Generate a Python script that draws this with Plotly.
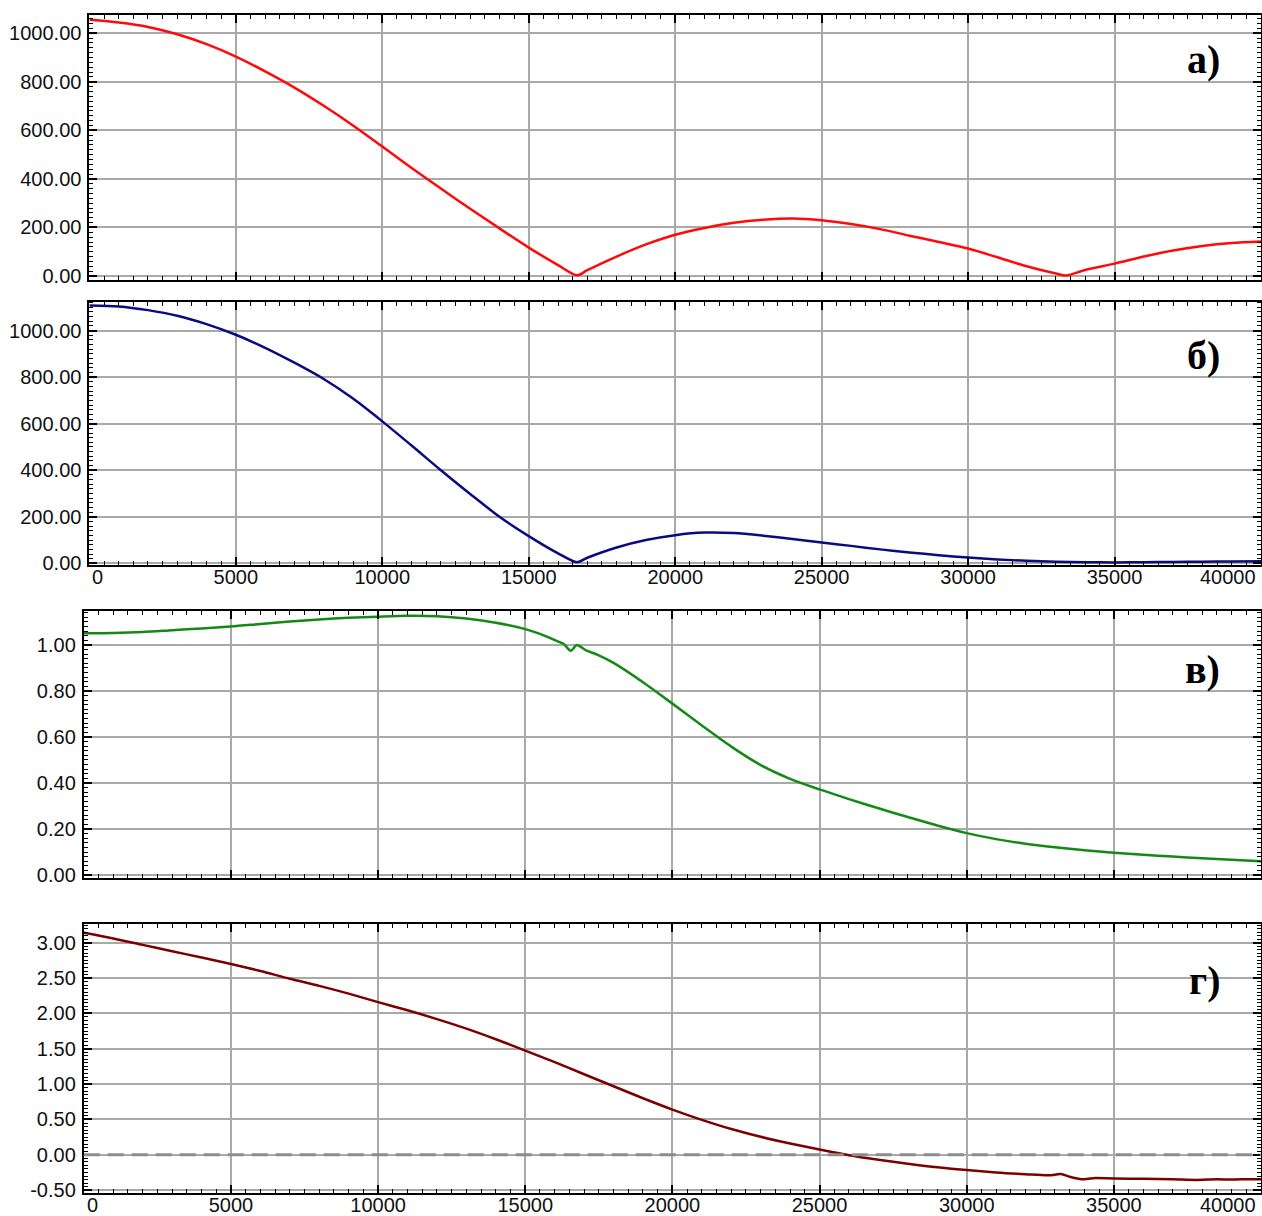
import plotly.graph_objects as go

# ---- panel а) : amplitude, red ----
a_x = [0, 1000, 2000, 3000, 4000, 5000, 6000, 7000, 8000, 9000, 10000, 11000, 12000,
       13000, 14000, 15000, 16000, 16650, 17000, 18000, 19000, 20000, 21000, 22000,
       23000, 24000, 25000, 26000, 27000, 28000, 29000, 30000, 31000, 32000, 33000,
       33350, 34000, 35000, 36000, 37000, 38000, 39000, 40000]
a_y = [1055, 1044, 1026, 996, 955, 904, 843, 776, 701, 620, 533, 445, 360,
       277, 196, 117, 45, 3, 24, 80, 130, 170, 198, 219,
       232, 237, 230, 214, 193, 166, 140, 113, 77, 40, 10,
       2, 25, 51, 80, 105, 124, 136, 142]

# ---- panel б) : amplitude, navy ----
b_x = [0, 1000, 2000, 3000, 4000, 5000, 6000, 7000, 8000, 9000, 10000, 11000, 12000,
       13000, 14000, 15000, 16000, 16650, 17000, 18000, 19000, 20000, 21000, 22000,
       23000, 24000, 25000, 26000, 27000, 28000, 29000, 30000, 31000, 32000, 33000,
       34000, 35000, 36000, 37000, 38000, 39000, 40000]
b_y = [1108, 1104, 1088, 1064, 1028, 982, 926, 862, 792, 708, 610, 506, 400,
       298, 200, 117, 43, 5, 24, 68, 100, 121, 132, 130,
       119, 105, 90, 75, 60, 47, 35, 25, 17, 11, 7,
       5, 4, 5, 6, 7, 8, 9]

# ---- panel в) : ratio, green ----
c_x = [0, 1000, 2000, 3000, 4000, 5000, 6000, 7000, 8000, 9000, 10000, 11000, 12000,
       13000, 14000, 15000, 15500, 16100, 16300, 16550, 16750, 17050, 17500, 18000,
       19000, 20000, 21000, 22000, 23000, 24000, 25000, 26000, 27000, 28000, 29000,
       30000, 31000, 32000, 33000, 34000, 35000, 36000, 37000, 38000, 39000, 40000]
c_y = [1.051, 1.052, 1.056, 1.064, 1.072, 1.080, 1.091, 1.102, 1.111, 1.118, 1.123, 1.127, 1.125,
       1.115, 1.097, 1.069, 1.048, 1.016, 1.005, 0.975, 1.000, 0.978, 0.955, 0.922,
       0.838, 0.745, 0.650, 0.558, 0.478, 0.418, 0.372, 0.330, 0.290, 0.252, 0.215,
       0.182, 0.156, 0.136, 0.121, 0.108, 0.097, 0.088, 0.080, 0.073, 0.066, 0.060]

# ---- panel г) : phase, dark red ----
d_x = [0, 1000, 2000, 3000, 4000, 5000, 6000, 7000, 8000, 9000, 10000, 11000, 12000,
       13000, 14000, 15000, 16000, 17000, 18000, 19000, 20000, 21000, 22000, 23000,
       24000, 25000, 26000, 27000, 28000, 29000, 30000, 31000, 32000, 32800, 33200,
       33500, 33900, 34300, 35000, 36000, 37000, 37800, 38500, 39000, 39600, 40000]
d_y = [3.14, 3.06, 2.97, 2.88, 2.79, 2.70, 2.60, 2.49, 2.39, 2.28, 2.16, 2.045, 1.92,
       1.785, 1.635, 1.475, 1.31, 1.14, 0.97, 0.80, 0.64, 0.495, 0.365, 0.255,
       0.16, 0.075, -0.005, -0.07, -0.125, -0.175, -0.215, -0.25, -0.275, -0.29, -0.272,
       -0.31, -0.345, -0.33, -0.335, -0.34, -0.345, -0.355, -0.345, -0.35, -0.345, -0.345]

X_TICKS = [5000, 10000, 15000, 20000, 25000, 30000, 35000]
X_TICK_TEXT = [str(v) for v in X_TICKS]
D_Y_TICKS = [-0.5, 0.0, 0.5, 1.0, 1.5, 2.0, 2.5, 3.0]
D_Y_TICK_TEXT = ["%.2f" % v for v in D_Y_TICKS]
PANEL_LABELS = ["а)", "б)", "в)", "г)"]

H = 1216
W = 1262
LABEL_FONT = dict(family="Liberation Sans, Arial, sans-serif", size=20, color="#111111")
GRID = "#a9a9a9"


def ydom(top_px, bottom_px):
    return [1 - bottom_px / H, 1 - top_px / H]


def frame(**kw):
    base = dict(
        tickfont=LABEL_FONT, automargin=False,
        ticks="inside", ticklen=8, tickwidth=1.5, tickcolor="black",
        showline=True, linecolor="black", linewidth=2, mirror="allticks",
        showgrid=True, gridcolor=GRID, gridwidth=1.5, zeroline=False,
    )
    base.update(kw)
    return base


def x_axis(domain, anchor, labels, standoff=0):
    return frame(
        domain=domain, anchor=anchor, range=[0, 40000],
        tickmode="array", tickvals=X_TICKS, ticktext=X_TICK_TEXT,
        showticklabels=labels, ticklabelstandoff=standoff,
        minor=dict(tickmode="linear", tick0=0, dtick=500, ticks="inside",
                   ticklen=4, tickwidth=1.2, tickcolor="black", showgrid=False),
    )


def y_axis(domain, anchor, rng, dtick, minor_dtick, tickvals=None, ticktext=None):
    ax = frame(
        domain=domain, anchor=anchor, range=rng,
        tickmode="linear", tick0=0, dtick=dtick, tickformat=".2f",
        ticklabelstandoff=2,
        minor=dict(tickmode="linear", tick0=0, dtick=minor_dtick, ticks="inside",
                   ticklen=4, tickwidth=1.2, tickcolor="black", showgrid=False),
    )
    if tickvals is not None:
        ax.update(tickmode="array", tickvals=tickvals, ticktext=ticktext)
    return ax


fig = go.Figure()
series = [
    (a_x, a_y, "x", "y", "#ff0a0a"),
    (b_x, b_y, "x2", "y2", "#0b0b80"),
    (c_x, c_y, "x3", "y3", "#148a14"),
    (d_x, d_y, "x4", "y4", "#7c0000"),
]
for xs, ys, xa, ya, col in series:
    fig.add_trace(go.Scatter(x=xs, y=ys, mode="lines", xaxis=xa, yaxis=ya,
                             line=dict(color=col, width=2.5, shape="spline", smoothing=0.8)))

xd_ab = [89.4 / W, 1261 / W]
xd_cd = [83.8 / W, 1261 / W]

fig.update_layout(
    width=W, height=H,
    margin=dict(l=0, r=0, t=0, b=0),
    paper_bgcolor="white", plot_bgcolor="white",
    showlegend=False,
    xaxis=x_axis(xd_ab, "y", False),
    yaxis=y_axis(ydom(15, 280), "x", [-16.5, 1075], 200, 20),
    xaxis2=x_axis(xd_ab, "y2", True, standoff=-7),
    yaxis2=y_axis(ydom(301.5, 564.5), "x2", [-5, 1125], 200, 20),
    xaxis3=x_axis(xd_cd, "y3", False),
    yaxis3=y_axis(ydom(610.7, 878), "x3", [-0.013, 1.149], 0.2, 0.02),
    xaxis4=x_axis(xd_cd, "y4", True, standoff=-7),
    yaxis4=y_axis(ydom(924, 1193), "x4", [-0.54, 3.265], 0.5, 0.05,
                  tickvals=D_Y_TICKS, ticktext=D_Y_TICK_TEXT),
)

# dashed zero reference in the phase panel
fig.add_shape(type="line", xref="x4 domain", yref="y4", x0=0, x1=1, y0=0, y1=0,
              line=dict(color="#8c8c8c", width=3, dash="16px,8px"), layer="above")

# end labels of the x scale, kept inside the frame
for xa, ya, dy in (("x2", "y2 domain", 1), ("x4", "y4 domain", 1)):
    fig.add_annotation(x=0, y=0, xref=xa, yref=ya, text="0", showarrow=False,
                       xanchor="left", yanchor="top", xshift=1, yshift=dy, font=LABEL_FONT)
    fig.add_annotation(x=40000, y=0, xref=xa, yref=ya, text="40000", showarrow=False,
                       xanchor="right", yanchor="top", xshift=-3, yshift=dy, font=LABEL_FONT)

# panel letters
for text, yc in zip(PANEL_LABELS, [60, 355, 669, 980]):
    fig.add_annotation(x=1222 / W, y=1 - yc / H, xref="paper", yref="paper", text=f"<b>{text}</b>",
                       showarrow=False, xanchor="right", yanchor="middle",
                       font=dict(family="Liberation Serif, Times New Roman, serif", size=40, color="black"))

fig.write_html("out.html")
